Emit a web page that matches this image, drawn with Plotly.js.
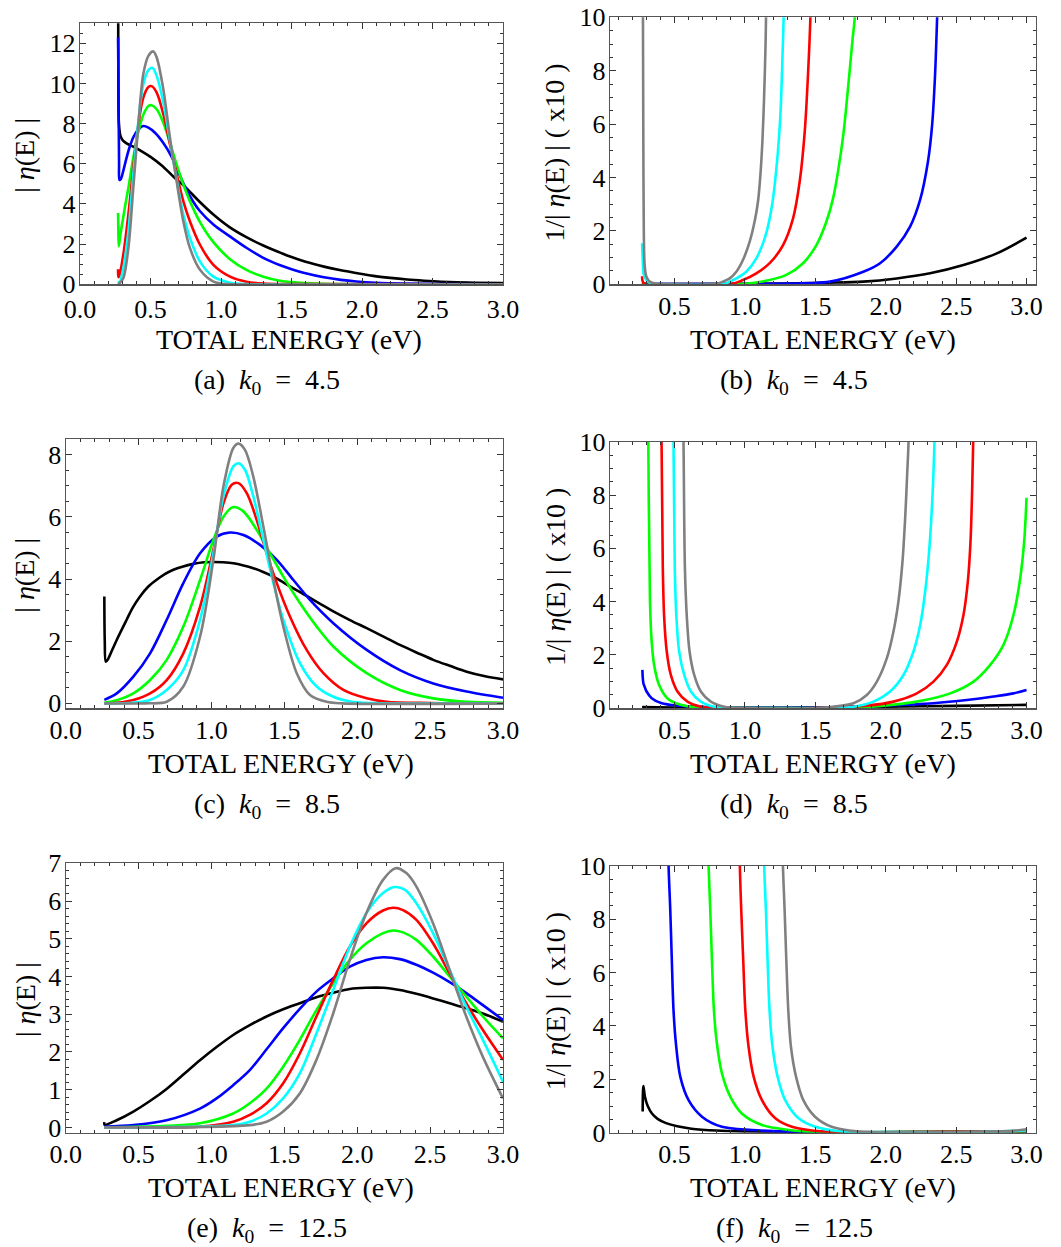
<!DOCTYPE html>
<html>
<head>
<meta charset="utf-8">
<script src="https://cdn.plot.ly/plotly-3.0.1.min.js"></script>
<style>html,body{margin:0;padding:0;background:#fff;}#plot{width:1061px;height:1247px;}</style>
</head>
<body>
<div id="plot"></div>
<script>
// ---------------- DATA ----------------
// Panel (a): |eta(E)|, k0 = 4.5
const aBlackE = [0.270,0.272,0.276,0.285,0.30,0.33,0.38,0.42,0.50,0.58,0.66,0.745,0.85,0.95,1.06,1.18,1.30,1.42,1.49,1.60,1.73,1.85,1.96,2.08,2.20,2.32,2.44,2.56,2.67,2.80,3.00];
const aBlackV = [16,10,8.0,7.45,7.2,7.02,6.85,6.7,6.35,5.92,5.38,4.85,4.1,3.45,2.85,2.35,1.93,1.58,1.38,1.12,0.88,0.7,0.56,0.42,0.32,0.24,0.18,0.13,0.1,0.08,0.06];
const aBlueE = [0.270,0.274,0.277,0.280,0.29,0.307,0.33,0.355,0.38,0.41,0.449,0.485,0.532,0.59,0.65,0.70,0.745,0.80,0.85,0.95,1.06,1.18,1.30,1.42,1.49,1.60,1.73,1.85,1.96,2.10,2.30,2.60,3.00];
const aBlueV = [12.3,9.0,6.0,5.2,5.25,5.65,6.3,6.9,7.35,7.68,7.88,7.8,7.55,7.05,6.35,5.55,4.85,4.15,3.65,2.95,2.4,1.82,1.32,0.95,0.78,0.55,0.35,0.22,0.14,0.08,0.04,0.01,0.0];
const aGreenE = [0.270,0.272,0.275,0.285,0.30,0.32,0.343,0.378,0.414,0.449,0.485,0.508,0.544,0.591,0.638,0.686,0.733,0.78,0.851,0.946,1.064,1.18,1.30,1.418,1.54,1.63,1.85,3.00];
const aGreenV = [3.55,2.6,1.9,2.4,3.05,3.9,4.8,6.3,7.6,8.45,8.88,8.92,8.72,8.05,7.05,5.95,4.97,4.13,3.1,2.1,1.25,0.72,0.38,0.18,0.09,0.05,0.01,0.0];
const aRedE = [0.270,0.272,0.28,0.307,0.343,0.378,0.414,0.449,0.485,0.508,0.544,0.591,0.638,0.686,0.733,0.78,0.851,0.946,1.064,1.18,1.30,1.45,3.00];
const aRedV = [0.75,0.35,0.45,1.47,3.47,5.8,7.97,9.3,9.83,9.87,9.55,8.47,6.97,5.47,4.13,3.13,1.97,0.97,0.38,0.13,0.04,0.01,0.0];
const aCyanE = [0.270,0.28,0.307,0.343,0.378,0.414,0.449,0.485,0.513,0.544,0.591,0.638,0.686,0.733,0.78,0.851,0.946,1.064,1.18,3.00];
const aCyanV = [0.15,0.1,0.8,2.63,5.47,8.13,9.97,10.67,10.78,10.38,9.05,7.13,5.2,3.47,2.3,1.13,0.38,0.08,0.01,0.0];
const aGrayE = [0.270,0.28,0.307,0.343,0.378,0.414,0.449,0.485,0.52,0.544,0.591,0.638,0.686,0.733,0.78,0.851,0.946,1.0,1.1,3.00];
const aGrayV = [0.0,0.05,0.3,1.8,4.8,7.97,10.47,11.38,11.6,11.3,9.72,7.3,5.1,3.13,1.8,0.72,0.13,0.04,0.0,0.0];

// Panel (b): 1/|eta(E)| (x10), k0 = 4.5
const bBlackE = [0.27,1.0,1.6,1.841,2.078,2.315,2.552,2.789,3.0];
const bBlackV = [0.01,0.02,0.06,0.1,0.22,0.41,0.72,1.16,1.75];
const bBlueE = [0.27,1.2,1.604,1.841,1.96,2.078,2.173,2.244,2.30,2.33,2.35,2.365,2.375];
const bBlueV = [0.02,0.02,0.1,0.47,0.79,1.41,2.16,3.16,4.6,6.0,7.8,10,12];
const bGreenE = [0.27,0.28,1.0,1.176,1.294,1.413,1.508,1.579,1.626,1.661,1.70,1.735,1.765,1.78,1.79];
const bGreenV = [0.05,0.01,0.02,0.16,0.35,0.79,1.47,2.35,3.22,4.22,5.65,7.5,9.2,10,12];
const bRedE = [0.27,0.272,0.28,0.30,0.90,0.986,1.081,1.176,1.271,1.342,1.389,1.425,1.448,1.465,1.475];
const bRedV = [0.3,0.15,0.05,0.01,0.01,0.16,0.41,0.79,1.47,2.47,3.85,5.72,7.84,10,13];
const bCyanE = [0.27,0.272,0.275,0.28,0.30,0.33,0.40,0.85,0.892,0.939,1.01,1.081,1.148,1.193,1.228,1.252,1.265,1.275,1.285];
const bCyanV = [1.54,1.2,0.85,0.41,0.16,0.04,0.01,0.01,0.1,0.22,0.47,0.97,1.85,2.97,4.59,6.34,8.2,10,13];
const bGrayE = [0.270,0.276,0.279,0.282,0.288,0.30,0.324,0.37,0.80,0.844,0.892,0.939,0.986,1.034,1.069,1.093,1.11,1.124,1.136,1.146,1.15,1.16];
const bGrayV = [40,10,5.0,2.0,0.72,0.29,0.1,0.03,0.02,0.1,0.22,0.47,0.91,1.6,2.35,3.1,4.1,5.34,6.97,8.84,10,13];

// Panel (c): |eta(E)|, k0 = 8.5
const cBlackE = [0.265,0.268,0.275,0.29,0.304,0.35,0.418,0.46,0.51,0.567,0.624,0.68,0.739,0.80,0.876,0.95,1.013,1.08,1.15,1.22,1.287,1.355,1.425,1.49,1.562,1.63,1.699,1.77,1.836,1.95,2.065,2.18,2.293,2.41,2.522,2.64,2.751,2.87,3.0];
const cBlackV = [3.44,2.0,1.34,1.42,1.56,2.04,2.69,3.08,3.44,3.76,3.98,4.16,4.3,4.4,4.49,4.54,4.55,4.54,4.51,4.44,4.35,4.23,4.08,3.9,3.7,3.52,3.33,3.14,2.96,2.68,2.42,2.15,1.88,1.63,1.4,1.2,1.02,0.88,0.77];
const cBlueE = [0.265,0.35,0.464,0.579,0.693,0.807,0.922,1.036,1.127,1.219,1.333,1.448,1.562,1.676,1.836,2.065,2.293,2.522,2.751,3.0];
const cBlueV = [0.11,0.32,0.86,1.61,2.69,3.87,4.83,5.37,5.5,5.42,5.1,4.62,3.97,3.33,2.58,1.72,1.07,0.64,0.38,0.18];
const cGreenE = [0.265,0.35,0.464,0.579,0.693,0.807,0.922,1.013,1.082,1.15,1.219,1.31,1.402,1.493,1.608,1.722,1.836,2.065,2.293,2.522,2.751,3.0];
const cGreenV = [0.02,0.1,0.32,0.75,1.4,2.47,3.97,5.26,6.01,6.32,6.18,5.59,4.83,4.08,3.22,2.47,1.83,0.97,0.43,0.16,0.05,0.02];
const cRedE = [0.265,0.35,0.464,0.579,0.693,0.807,0.922,1.013,1.082,1.139,1.185,1.242,1.31,1.379,1.448,1.539,1.653,1.768,1.905,2.065,2.2,2.5,3.0];
const cRedV = [0.0,0.02,0.11,0.32,0.75,1.61,3.11,4.94,6.44,7.04,7.09,6.77,5.91,4.83,3.87,2.79,1.72,0.97,0.43,0.16,0.05,0.01,0.0];
const cCyanE = [0.265,0.464,0.579,0.693,0.807,0.922,1.013,1.082,1.15,1.185,1.23,1.287,1.356,1.425,1.493,1.608,1.722,1.836,1.95,2.1,3.0];
const cCyanV = [0.0,0.02,0.11,0.43,1.07,2.69,4.83,6.66,7.63,7.73,7.52,6.66,5.26,3.87,2.69,1.29,0.54,0.21,0.06,0.01,0.0];
const cGrayE = [0.265,0.55,0.693,0.807,0.922,1.013,1.082,1.15,1.185,1.23,1.287,1.356,1.425,1.493,1.585,1.676,1.79,1.9,3.0];
const cGrayV = [0.0,0.0,0.05,0.54,2.15,4.62,6.98,8.22,8.36,8.16,7.3,5.69,3.97,2.47,0.97,0.27,0.05,0.0,0.0];

// Panel (d): 1/|eta(E)| (x10), k0 = 8.5
const dBlackE = [0.27,0.5,1.0,1.5,2.0,2.5,3.0];
const dBlackV = [0.05,0.03,0.02,0.03,0.06,0.09,0.13];
const dBlueE = [0.272,0.274,0.279,0.29,0.302,0.338,0.409,0.527,0.717,1.0,1.3,1.6,2.0,2.339,2.576,2.765,2.907,3.0];
const dBlueV = [1.44,1.2,0.94,0.78,0.63,0.38,0.19,0.1,0.05,0.02,0.02,0.04,0.1,0.19,0.31,0.44,0.56,0.69];
const dGreenE = [0.27,0.30,0.314,0.326,0.338,0.355,0.39,0.449,0.544,0.663,0.9,1.5,1.8,1.984,2.221,2.458,2.623,2.742,2.836,2.907,2.955,2.983,3.0];
const dGreenV = [50,20,10,4.0,2.5,1.63,0.88,0.38,0.13,0.03,0.01,0.01,0.04,0.1,0.25,0.56,1.0,1.63,2.38,3.5,4.88,6.25,7.9];
const dRedE = [0.27,0.38,0.408,0.417,0.427,0.445,0.474,0.521,0.592,0.687,0.8,1.5,1.866,2.055,2.221,2.339,2.434,2.505,2.552,2.583,2.602,2.614,2.621,2.63];
const dRedV = [50,20,10,5.25,3.38,2.13,1.25,0.63,0.25,0.06,0.01,0.01,0.1,0.25,0.56,1.0,1.63,2.5,3.5,4.75,6.25,8.25,10,13];
const dCyanE = [0.27,0.47,0.493,0.502,0.514,0.533,0.569,0.616,0.687,0.782,0.9,1.6,1.771,1.913,2.031,2.126,2.197,2.245,2.28,2.308,2.33,2.346,2.355];
const dCyanV = [50,20,10,5.25,3.38,2.13,1.25,0.63,0.25,0.06,0.01,0.01,0.06,0.25,0.63,1.25,2.13,3.13,4.38,5.88,7.75,10,13];
const dGrayE = [0.27,0.54,0.564,0.574,0.588,0.607,0.64,0.687,0.758,0.853,1.0,1.5,1.63,1.771,1.866,1.937,2.008,2.055,2.09,2.119,2.138,2.152,2.162,2.17];
const dGrayV = [50,20,10,5.25,3.38,2.13,1.25,0.63,0.25,0.06,0.01,0.01,0.06,0.19,0.5,1.0,1.88,2.88,4.0,5.5,7.13,8.75,10,13];

// Panel (e): |eta(E)|, k0 = 12.5
const eBlackE = [0.265,0.267,0.35,0.464,0.578,0.692,0.807,0.921,1.035,1.149,1.263,1.378,1.492,1.606,1.72,1.835,1.949,2.063,2.177,2.292,2.406,2.52,2.634,2.748,2.862,3.0];
const eBlackV = [0.14,0.07,0.19,0.42,0.70,1.02,1.40,1.78,2.13,2.45,2.71,2.94,3.13,3.29,3.45,3.57,3.67,3.7,3.7,3.64,3.54,3.42,3.29,3.16,3.02,2.8];
const eBlueE = [0.265,0.464,0.692,0.921,1.035,1.149,1.263,1.378,1.492,1.606,1.72,1.835,1.949,2.063,2.177,2.292,2.406,2.52,2.634,2.748,2.862,3.0];
const eBlueV = [0.02,0.06,0.19,0.5,0.77,1.12,1.52,2.07,2.63,3.14,3.6,3.95,4.26,4.44,4.51,4.46,4.31,4.1,3.85,3.56,3.24,2.85];
const eGreenE = [0.265,0.692,0.921,1.149,1.263,1.378,1.492,1.606,1.72,1.835,1.949,2.063,2.177,2.246,2.314,2.406,2.52,2.634,2.748,2.862,3.0];
const eGreenV = [0.0,0.04,0.11,0.37,0.64,1.03,1.61,2.32,3.11,3.82,4.44,4.88,5.15,5.22,5.17,4.97,4.53,4.0,3.47,2.94,2.36];
const eRedE = [0.265,0.921,1.149,1.263,1.378,1.492,1.606,1.72,1.835,1.949,2.063,2.177,2.246,2.314,2.406,2.52,2.634,2.748,2.862,3.0];
const eRedV = [0.0,0.02,0.15,0.33,0.64,1.17,1.96,2.94,3.91,4.79,5.41,5.75,5.82,5.76,5.5,4.88,4.08,3.29,2.58,1.79];
const eCyanE = [0.265,1.149,1.263,1.378,1.492,1.606,1.72,1.835,1.949,2.063,2.177,2.257,2.326,2.406,2.52,2.634,2.748,2.862,3.0];
const eCyanV = [0.0,0.06,0.15,0.37,0.77,1.43,2.49,3.64,4.79,5.68,6.21,6.37,6.3,5.94,5.15,4.17,3.2,2.32,1.21];
const eGrayE = [0.265,1.263,1.378,1.492,1.606,1.72,1.835,1.949,2.063,2.177,2.263,2.337,2.406,2.52,2.634,2.748,2.862,3.0];
const eGrayV = [0.0,0.06,0.15,0.42,0.9,1.79,3.02,4.44,5.68,6.56,6.87,6.74,6.38,5.41,4.17,2.94,1.87,0.77];

// Panel (f): 1/|eta(E)| (x10), k0 = 12.5
const fBlackE = [0.274,0.279,0.29,0.31,0.34,0.38,0.44,0.52,0.62,0.80,1.0,1.3,1.7,2.2,2.7,3.0];
const fBlackV = [0.79,1.75,1.35,1.0,0.72,0.52,0.36,0.24,0.15,0.08,0.05,0.03,0.02,0.02,0.03,0.04];
const fBlueE = [0.27,0.44,0.458,0.47,0.481,0.493,0.51,0.541,0.6,0.695,0.837,1.05,1.31,1.6,2.0,2.5,3.0];
const fBlueV = [50,15,10,8.34,6.47,4.59,3.35,2.1,1.22,0.6,0.22,0.1,0.04,0.02,0.02,0.03,0.04];
const fGreenE = [0.27,0.72,0.742,0.754,0.766,0.78,0.801,0.837,0.896,0.978,1.121,1.31,1.523,2.0,3.0];
const fGreenV = [50,15,10,8.34,6.47,4.59,3.35,2.22,1.35,0.72,0.29,0.1,0.02,0.02,0.04];
const fRedE = [0.27,0.95,0.964,0.974,0.988,1.003,1.026,1.062,1.121,1.216,1.334,1.5,1.688,2.2,3.0];
const fRedV = [50,15,10,8.34,6.47,4.59,3.22,2.1,1.22,0.54,0.22,0.07,0.01,0.02,0.06];
const fCyanE = [0.27,1.12,1.137,1.149,1.161,1.175,1.196,1.232,1.286,1.381,1.5,1.642,1.831,2.2,2.6,3.0];
const fCyanV = [50,15,10,8.34,6.47,4.59,3.22,2.1,1.22,0.54,0.22,0.07,0.01,0.01,0.02,0.08];
const fGrayE = [0.27,1.25,1.27,1.282,1.294,1.308,1.327,1.363,1.415,1.498,1.616,1.759,1.947,2.3,2.7,2.9,3.0];
const fGrayV = [50,15,10,8.34,6.47,4.59,3.22,2.1,1.22,0.6,0.22,0.07,0.01,0.01,0.03,0.07,0.13];

// labels
const NB = '\u00A0';
const captionLetters = ['a','b','c','d','e','f'];
const captionK0 = ['4.5','4.5','8.5','8.5','12.5','12.5'];
const xTitle = 'TOTAL ENERGY (eV)';
const yTitleLeft = '| <i>η</i>(E) |';
const yTitleRight = '1/| <i>η</i>(E) | ( x10 )';

// ---------------- BUILD ----------------
const COLORS = {black:'#000000', blue:'#0000ff', green:'#00ff00', red:'#ff0000', cyan:'#00ffff', gray:'#808080'};
const series = {
  a: [[aBlackE,aBlackV,'black'],[aBlueE,aBlueV,'blue'],[aGreenE,aGreenV,'green'],[aRedE,aRedV,'red'],[aCyanE,aCyanV,'cyan'],[aGrayE,aGrayV,'gray']],
  b: [[bBlackE,bBlackV,'black'],[bBlueE,bBlueV,'blue'],[bGreenE,bGreenV,'green'],[bRedE,bRedV,'red'],[bCyanE,bCyanV,'cyan'],[bGrayE,bGrayV,'gray']],
  c: [[cBlackE,cBlackV,'black'],[cBlueE,cBlueV,'blue'],[cGreenE,cGreenV,'green'],[cRedE,cRedV,'red'],[cCyanE,cCyanV,'cyan'],[cGrayE,cGrayV,'gray']],
  d: [[dBlackE,dBlackV,'black'],[dBlueE,dBlueV,'blue'],[dGreenE,dGreenV,'green'],[dRedE,dRedV,'red'],[dCyanE,dCyanV,'cyan'],[dGrayE,dGrayV,'gray']],
  e: [[eBlackE,eBlackV,'black'],[eBlueE,eBlueV,'blue'],[eGreenE,eGreenV,'green'],[eRedE,eRedV,'red'],[eCyanE,eCyanV,'cyan'],[eGrayE,eGrayV,'gray']],
  f: [[fBlackE,fBlackV,'black'],[fBlueE,fBlueV,'blue'],[fGreenE,fGreenV,'green'],[fRedE,fRedV,'red'],[fCyanE,fCyanV,'cyan'],[fGrayE,fGrayV,'gray']]
};

const W = 1061, H = 1247;
// panel geometry in pixels: left, right, top, bottom
const panels = [
  {k:'a', l:80,  r:503,    t:23.3,  b:284.3,  xr:[0,3],        yr:[0,13],      yd:2, ym:0.5, xs:1},
  {k:'b', l:610, r:1035.7, t:17.3,  b:284.3,  xr:[0.042,3.065],yr:[0,10],      yd:2, ym:0.5, xs:-2},
  {k:'c', l:65.7,r:503,    t:439,   b:708.3,  xr:[0,3],        yr:[-0.16,8.51],yd:2, ym:0.5, xs:-2},
  {k:'d', l:610, r:1035.7, t:441.7, b:708.3,  xr:[0.042,3.065],yr:[0,10],      yd:2, ym:0.5, xs:-2},
  {k:'e', l:65.7,r:503,    t:863.3, b:1132.7, xr:[0,3],        yr:[-0.14,7],   yd:1, ym:0.2, xs:-2},
  {k:'f', l:610, r:1035.7, t:865.7, b:1132.7, xr:[0.042,3.065],yr:[0,10],      yd:2, ym:0.5, xs:-2}
];

const FONT = '"Liberation Serif", "Times New Roman", serif';
const frameColor = '#555555';
const tickColor = '#333333';
const traces = [];
const layout = {
  width: W, height: H,
  margin: {l:0, r:0, t:0, b:0},
  paper_bgcolor: '#ffffff', plot_bgcolor: '#ffffff',
  showlegend: false,
  font: {family: FONT, size: 26, color: '#000'},
  annotations: []
};

panels.forEach((p, i) => {
  const n = i + 1;
  const xa = n === 1 ? 'x' : 'x' + n;
  const ya = n === 1 ? 'y' : 'y' + n;
  series[p.k].forEach(s => {
    traces.push({
      x: s[0], y: s[1], xaxis: xa, yaxis: ya, type: 'scatter', mode: 'lines',
      line: {color: COLORS[s[2]], width: 2.6, shape: 'spline', smoothing: 0.9},
      hoverinfo: 'skip'
    });
  });
  const common = {
    showline: true, linecolor: frameColor, linewidth: 1.2, mirror: 'ticks',
    ticks: 'inside', ticklen: 6, tickwidth: 1, tickcolor: tickColor,
    showgrid: false, zeroline: false,
    tickfont: {family: FONT, size: 26, color: '#000'}
  };
  layout['xaxis' + (n === 1 ? '' : n)] = Object.assign({}, common, {
    domain: [p.l / W, p.r / W], range: p.xr, anchor: ya,
    tick0: 0, dtick: 0.5, tickformat: '.1f', ticklabelstandoff: p.xs,
    minor: {ticks: 'inside', ticklen: 3, dtick: 0.1, tick0: 0, tickcolor: tickColor, tickwidth: 1}
  });
  layout['yaxis' + (n === 1 ? '' : n)] = Object.assign({}, common, {
    domain: [1 - p.b / H, 1 - p.t / H], range: p.yr, anchor: xa,
    tick0: 0, dtick: p.yd, tickformat: 'd', ticklabelstandoff: -2,
    minor: {ticks: 'inside', ticklen: 3, dtick: p.ym, tick0: 0, tickcolor: tickColor, tickwidth: 1}
  });
  const left = (p.k === 'a' || p.k === 'c' || p.k === 'e');
  // x title
  layout.annotations.push({xref:'paper', yref:'paper', x: (left ? (p.l + p.r)/2 - 3 : 823) / W, y: 1 - (p.b + 55) / H,
    text: xTitle, showarrow: false, xanchor: 'center', yanchor: 'middle', font: {family: FONT, size: 28, color: '#000'}});
  // caption
  const cap = '(' + captionLetters[i] + ')' + NB + NB + '<i>k</i><sub>0</sub>' + NB + NB + '=' + NB + NB + captionK0[i];
  layout.annotations.push({xref:'paper', yref:'paper', x: (left ? 267 : 794) / W, y: 1 - (p.b + 97) / H,
    text: cap, showarrow: false, xanchor: 'center', yanchor: 'middle', font: {family: FONT, size: 28, color: '#000'}});
  // y title
  layout.annotations.push({xref:'paper', yref:'paper', x: (left ? 25 : 555) / W, y: 1 - ((p.t + p.b) / 2 + 2) / H,
    text: left ? yTitleLeft : yTitleRight, textangle: -90, showarrow: false, xanchor: 'center', yanchor: 'middle',
    font: {family: FONT, size: 28, color: '#000'}});
});

Plotly.newPlot('plot', traces, layout, {staticPlot: true, displayModeBar: false});
</script>
</body>
</html>
